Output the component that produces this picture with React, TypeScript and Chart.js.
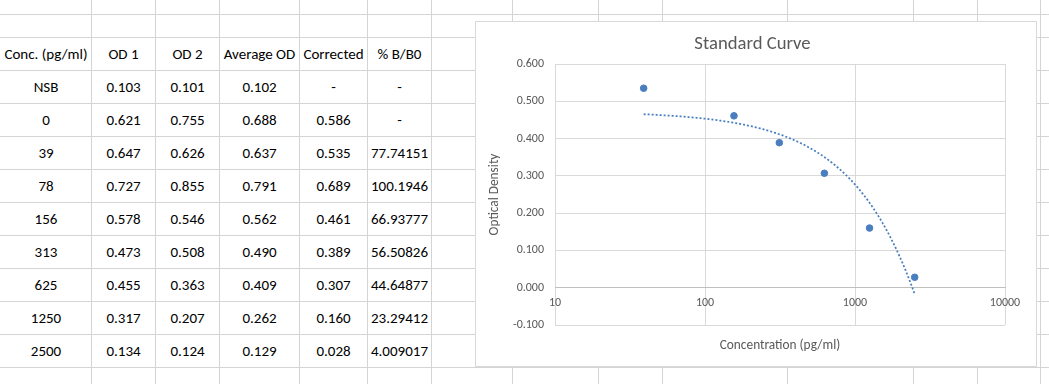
import React, { useEffect, useRef } from 'react';
import { Chart, registerables } from 'chart.js';

Chart.register(...registerables);

// ---------- data ----------
const headers = ['Conc. (pg/ml)', 'OD 1', 'OD 2', 'Average OD', 'Corrected', '% B/B0'];
const concLabels = ['NSB', '0', '39', '78', '156', '313', '625', '1250', '2500'];
const od1 = [0.103, 0.621, 0.647, 0.727, 0.578, 0.473, 0.455, 0.317, 0.134];
const od2 = [0.101, 0.755, 0.626, 0.855, 0.546, 0.508, 0.363, 0.207, 0.124];
const avgOD = [0.102, 0.688, 0.637, 0.791, 0.562, 0.49, 0.409, 0.262, 0.129];
const corrected: (number | null)[] = [null, 0.586, 0.535, 0.689, 0.461, 0.389, 0.307, 0.16, 0.028];
const pctB0: (number | null)[] = [null, null, 77.74151, 100.1946, 66.93777, 56.50826, 44.64877, 23.29412, 4.009017];

// plotted standards (x = concentration, y = corrected OD)
const stdConc = [39, 156, 313, 625, 1250, 2500];
const stdOD = [0.535, 0.461, 0.389, 0.307, 0.16, 0.028];

const xTickValues = [10, 100, 1000, 10000];
const yTickMin = -0.1;
const yTickMax = 0.6;
const yTickStep = 0.1;

const chartTitle = 'Standard Curve';
const xTitle = 'Concentration (pg/ml)';
const yTitle = 'Optical Density';

// ---------- layout / style ----------
const FONT = 'Calibri, Carlito, Lato, sans-serif';
const CELL_GRID = '#d4d4d4';
const PLOT_GRID = '#d9d9d9';
const AXIS_LINE = '#bfbfbf';
const TEXT_GREY = '#595959';
const BLUE = '#4A7EBF';

const COL_LINES = [91, 155, 219, 299, 367, 431, 512, 598, 662, 787, 913, 977, 1040];
const ROW_LINES = [14, 37, 70, 103, 136, 169, 202, 235, 268, 301, 334, 367];
const TABLE_COLS = [0, 91, 155, 219, 299, 367, 431];
const HEADER_TOP = 37;
const ROW_H = 33;

const fmt3 = (v: number | null) => (v === null ? '-' : v.toFixed(3));
const fmtGeneral = (v: number | null) => (v === null ? '-' : v.toPrecision(7));

const trendlinePlugin = {
  id: 'linearTrendline',
  afterDatasetsDraw(chart: any) {
    const xs = chart.scales.x;
    const ys = chart.scales.y;
    const n = stdConc.length;
    const mx = stdConc.reduce((a, b) => a + b, 0) / n;
    const my = stdOD.reduce((a, b) => a + b, 0) / n;
    let sxy = 0;
    let sxx = 0;
    for (let i = 0; i < n; i++) {
      sxy += (stdConc[i] - mx) * (stdOD[i] - my);
      sxx += (stdConc[i] - mx) * (stdConc[i] - mx);
    }
    const slope = sxy / sxx;
    const intercept = my - slope * mx;
    const lo = Math.log(Math.min(...stdConc));
    const hi = Math.log(Math.max(...stdConc));
    const ctx = chart.ctx;
    ctx.save();
    ctx.beginPath();
    const steps = 200;
    for (let k = 0; k <= steps; k++) {
      const xv = Math.exp(lo + ((hi - lo) * k) / steps);
      const px = xs.getPixelForValue(xv);
      const py = ys.getPixelForValue(intercept + slope * xv);
      if (k === 0) ctx.moveTo(px, py);
      else ctx.lineTo(px, py);
    }
    ctx.strokeStyle = BLUE;
    ctx.lineWidth = 1.75;
    ctx.setLineDash([2, 2]);
    ctx.stroke();
    ctx.restore();
  },
};

function StandardCurve() {
  const ref = useRef<HTMLCanvasElement>(null);
  useEffect(() => {
    const tickFont = { family: FONT, size: 12 };
    const titleFont = { family: FONT, size: 13.33 };
    const chart = new Chart(ref.current as HTMLCanvasElement, {
      type: 'scatter',
      data: {
        datasets: [
          {
            label: 'Standards',
            data: stdConc.map((x, i) => ({ x, y: stdOD[i] })),
            backgroundColor: BLUE,
            borderColor: BLUE,
            pointRadius: 3.3,
            pointBorderWidth: 1,
            pointHoverRadius: 3.3,
          },
        ],
      },
      options: {
        animation: false,
        responsive: false,
        maintainAspectRatio: false,
        events: [],
        layout: { padding: { left: 0, right: 7, top: 0, bottom: 0 } },
        plugins: {
          legend: { display: false },
          tooltip: { enabled: false },
          title: {
            display: true,
            text: chartTitle,
            color: TEXT_GREY,
            font: { family: FONT, size: 18.67, weight: 'normal' },
            padding: { top: 10.8, bottom: 8.8 },
          },
        },
        scales: {
          x: {
            type: 'logarithmic',
            position: { y: 0 },
            min: 10,
            max: 10000,
            afterBuildTicks: (s: any) => {
              s.ticks = xTickValues.map((v) => ({ value: v }));
            },
            ticks: {
              callback: (v: any) => String(v),
              color: TEXT_GREY,
              font: tickFont,
              padding: 8.1,
              maxRotation: 0,
              autoSkip: false,
            },
            grid: { color: PLOT_GRID, drawTicks: false },
            border: { color: AXIS_LINE, width: 1 },
          },
          x2: {
            type: 'linear',
            position: 'bottom',
            min: 0,
            max: 1,
            ticks: { display: false },
            grid: { display: false },
            border: { display: false },
            title: {
              display: true,
              text: xTitle,
              color: TEXT_GREY,
              font: titleFont,
              padding: { top: 0, bottom: 12.3 },
            },
            afterFit: (s: any) => {
              s.height = 41;
            },
          },
          y: {
            type: 'linear',
            position: 'left',
            min: yTickMin,
            max: yTickMax,
            ticks: {
              stepSize: yTickStep,
              callback: (v: any) => {
                const n = Number(v);
                return (Math.abs(n) < 1e-9 ? 0 : n).toFixed(3);
              },
              color: TEXT_GREY,
              font: tickFont,
              padding: 11,
            },
            grid: {
              drawTicks: false,
              color: (c: any) => (Math.abs(c.tick?.value ?? 1) < 1e-9 ? AXIS_LINE : PLOT_GRID),
            },
            border: { display: false },
            title: {
              display: true,
              text: yTitle,
              color: TEXT_GREY,
              font: titleFont,
              padding: { top: 11, bottom: 0 },
            },
            afterFit: (s: any) => {
              s.width = 79;
            },
          },
          yR: {
            type: 'linear',
            position: 'right',
            ticks: { display: false },
            grid: { display: false },
            border: { display: false },
            afterFit: (s: any) => {
              s.width = 24;
            },
          },
        },
      } as any,
      plugins: [trendlinePlugin],
    });
    return () => chart.destroy();
  }, []);
  return <canvas ref={ref} width={560} height={344} style={{ display: 'block', width: 560, height: 344 }} />;
}

export default function App() {
  const rows = concLabels.map((c, i) => [
    c,
    fmt3(od1[i]),
    fmt3(od2[i]),
    fmt3(avgOD[i]),
    fmt3(corrected[i]),
    fmtGeneral(pctB0[i]),
  ]);
  const allRows = [headers, ...rows];
  return (
    <div
      style={{
        position: 'absolute',
        left: 0,
        top: 0,
        width: 1049,
        height: 384,
        overflow: 'hidden',
        background: '#ffffff',
        fontFamily: FONT,
      }}
    >
      {COL_LINES.map((x) => (
        <div key={'c' + x} style={{ position: 'absolute', left: x, top: 0, width: 1, height: 384, background: CELL_GRID }} />
      ))}
      {ROW_LINES.map((y) => (
        <div key={'r' + y} style={{ position: 'absolute', left: 0, top: y, width: 1049, height: 1, background: CELL_GRID }} />
      ))}
      {allRows.map((row, r) =>
        row.map((txt, c) => (
          <div
            key={r + '-' + c}
            style={{
              position: 'absolute',
              left: TABLE_COLS[c] + 1,
              width: TABLE_COLS[c + 1] - TABLE_COLS[c] - 1,
              top: HEADER_TOP + r * ROW_H + 1,
              height: ROW_H - 1,
              display: 'flex',
              alignItems: 'center',
              justifyContent: 'center',
              fontSize: 15,
              color: '#000000',
              whiteSpace: 'nowrap',
            }}
          >
            {txt}
          </div>
        ))
      )}
      <div
        style={{
          position: 'absolute',
          left: 475,
          top: 21,
          width: 562,
          height: 346,
          boxSizing: 'border-box',
          border: '1px solid #d9d9d9',
          background: '#ffffff',
        }}
      >
        <StandardCurve />
      </div>
    </div>
  );
}
